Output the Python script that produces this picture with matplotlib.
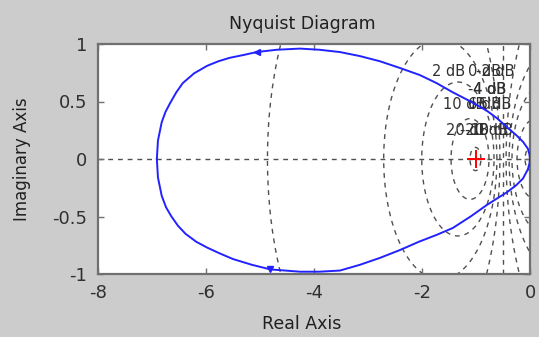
import matplotlib
matplotlib.use('Agg')
import matplotlib.pyplot as plt
import numpy as np

plt.rcParams['font.family'] = ['DejaVu Sans']

# Nyquist curve (upper half right->left, lower half left->right)
re_upper = [0, -0.01, -0.04, -0.13, -0.26, -0.41, -0.60, -0.80, -1.10, -1.43, -1.73,
            -2.04, -2.40, -2.78, -3.15, -3.52, -3.90, -4.26, -4.69, -5.06, -5.30,
            -5.56, -5.77, -5.98, -6.22, -6.43, -6.55, -6.66, -6.75, -6.82, -6.89, -6.91]
im_upper = [0, 0.04, 0.09, 0.15, 0.21, 0.27, 0.35, 0.42, 0.50, 0.58, 0.66,
            0.73, 0.79, 0.85, 0.895, 0.93, 0.95, 0.96, 0.95, 0.93, 0.905,
            0.88, 0.85, 0.81, 0.745, 0.66, 0.58, 0.49, 0.41, 0.32, 0.16, 0]
re_lower = [-6.91, -6.89, -6.82, -6.74, -6.64, -6.52, -6.38, -6.18, -5.98, -5.75,
            -5.50, -5.15, -4.81, -4.26, -3.90, -3.52, -3.15, -2.78, -2.40, -2.06,
            -1.73, -1.43, -1.10, -0.80, -0.60, -0.43, -0.26, -0.13, -0.04, -0.01, 0]
im_lower = [0, -0.16, -0.32, -0.42, -0.50, -0.58, -0.65, -0.72, -0.77, -0.82,
            -0.87, -0.92, -0.96, -0.98, -0.98, -0.97, -0.92, -0.86, -0.79, -0.72,
            -0.66, -0.60, -0.50, -0.40, -0.34, -0.29, -0.23, -0.17, -0.09, -0.04, 0]

# arrow positions on the curve
arrow_up = (-5.06, 0.93)
arrow_dn = (-4.81, -0.96)

# constant-magnitude grid (dB)
m_db = [-20, -10, -6, -4, -2, 0, 2, 4, 6, 10, 20]

# label text and where it sits
lab_text = ['2 dB', '0 dB', '-2 dB', '4 dB', '-4 dB', '10 dB', '6 dB', '-6 dB',
            '20 dB', '-20 dB', '-10 dB']
lab_x = [-1.81, -1.15, -1.00, -1.05, -1.15, -1.62, -1.15, -1.05, -1.55, -1.30, -1.20]
lab_y = [0.76, 0.76, 0.76, 0.60, 0.60, 0.47, 0.47, 0.47, 0.25, 0.25, 0.25]

fig = plt.figure(figsize=(5.39, 3.37), dpi=100, facecolor='#cccccc')
ax = fig.add_axes([98/539, 1-274/337, 432/539, 230/337])
ax.set_facecolor('white')

grid_kw = dict(color='#505050', lw=1.0, ls=(0, (3.5, 3.5)), zorder=1)
t = np.linspace(0, 2*np.pi, 800)
for db in m_db:
    if db == 0:
        ax.axvline(-0.5, **grid_kw)
        continue
    M = 10**(db/20)
    c = -M**2/(M**2 - 1)
    r = abs(M/(M**2 - 1))
    ax.plot(c + r*np.cos(t), r*np.sin(t), **grid_kw)
ax.axhline(0, **grid_kw)

for s, x, y in zip(lab_text, lab_x, lab_y):
    ax.text(x, y, s, fontsize=10.5, color='#303030', ha='left', va='center', zorder=2)

ax.plot(re_upper, im_upper, color='#2222ff', lw=1.4, zorder=3, solid_joinstyle='round')
ax.plot(re_lower, im_lower, color='#2222ff', lw=1.4, zorder=3, solid_joinstyle='round')
ax.plot(*arrow_up, marker='<', color='#2222ff', ms=5, zorder=4)
ax.plot(*arrow_dn, marker='v', color='#2222ff', ms=5, zorder=4)
ax.plot(-1, 0, marker='+', color='red', ms=13, mew=1.4, zorder=4)

ax.set_xlim(-8, 0)
ax.set_ylim(-1, 1)
ax.set_xticks([-8, -6, -4, -2, 0])
ax.set_yticks([-1, -0.5, 0, 0.5, 1])
ax.set_yticklabels(['-1', '-0.5', '0', '0.5', '1'])
ax.set_xticklabels(['-8', '-6', '-4', '-2', '0'])
ax.tick_params(direction='in', length=4, width=1, color='#707070', top=True, right=True,
               labelsize=13, labelcolor='#303030')
ax.tick_params(axis='x', pad=7)
ax.tick_params(axis='y', pad=8)
for sp in ax.spines.values():
    sp.set_color('#707070')
    sp.set_linewidth(1.6)

ax.set_title('Nyquist Diagram', fontsize=12.5, color='#202020', pad=11, x=0.472)
ax.set_xlabel('Real Axis', fontsize=12.5, color='#202020')
ax.xaxis.set_label_coords(0.472, -0.18)
ax.set_ylabel('Imaginary Axis', fontsize=12, color='#202020')
ax.yaxis.set_label_coords(-0.155, 0.5)

fig.savefig('out.png', dpi=100, facecolor=fig.get_facecolor())
